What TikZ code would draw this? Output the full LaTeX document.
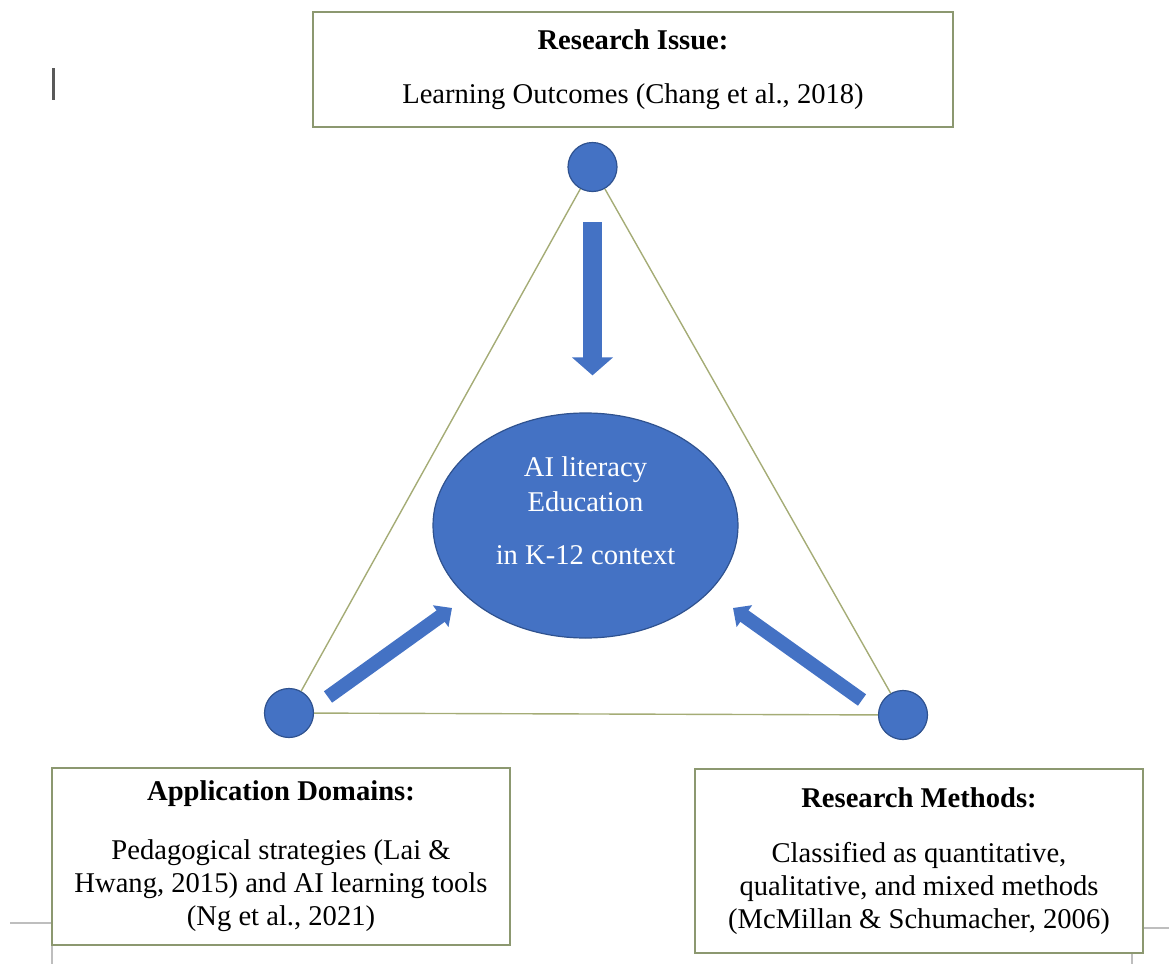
\documentclass[tikz,border=0pt]{standalone}
\usepackage{fontspec}
\setmainfont{Liberation Serif}
\usetikzlibrary{arrows.meta,shapes.geometric}

\definecolor{officeblue}{RGB}{68,114,196}
\definecolor{blueedge}{RGB}{47,82,143}
\definecolor{sideline}{RGB}{165,172,118}
\definecolor{boxgreen}{RGB}{140,152,112}
\definecolor{markgrey}{RGB}{190,190,190}

\begin{document}
\begin{tikzpicture}[x=0.5pt,y=-0.5pt,
  box/.style={draw=boxgreen,line width=1pt,fill=white,align=center,inner sep=0pt,
    font=\fontsize{14.3}{16.5}\selectfont},
  dot/.style={circle,fill=officeblue,draw=blueedge,line width=0.6pt,minimum size=24.5pt,inner sep=0pt},
  hubstyle/.style={ellipse,fill=officeblue,draw=blueedge,line width=0.6pt,inner sep=0pt,
    minimum width=152.5pt,minimum height=112.5pt},
  side/.style={draw=sideline,line width=0.7pt},
  bigarr/.style={draw=officeblue,line width=9.5pt,-{Triangle[length=9pt,width=20pt]}},
  smallarr/.style={draw=officeblue,line width=7pt,-{Triangle[length=7pt,width=13pt]}},
  cropline/.style={draw=markgrey,line width=0.8pt}]
  \useasboundingbox (0,0) rectangle (1169,964);
  % stray cursor and page corner marks
  \draw[line width=1.5pt,draw=black!65] (53,68) -- (53,100);
  \draw[cropline] (10,923) -- (52,923) -- (52,964);
  \draw[cropline] (1169,928) -- (1143,928);
  \draw[cropline] (1132,953) -- (1132,964);
  % triangle corners
  \node[dot] (top) at (592.5,167) {};
  \node[dot] (left) at (289,713) {};
  \node[dot] (right) at (903,715) {};
  \draw[side] (top) -- (left);
  \draw[side] (left) -- (right);
  \draw[side] (right) -- (top);
  % centre
  \node[hubstyle] (hub) at (585.5,525.5) {};
  \node[align=center,text=white,inner sep=0pt,font=\fontsize{14.3}{16.5}\selectfont]
    (hubtext) at (585.5,511) {AI literacy\\[1pt]Education\\[10pt]in K-12 context};
  % arrows into the centre
  \coordinate (lefttail) at (328,697);
  \coordinate (lefttip) at (452,608);
  \coordinate (righttail) at (862,700);
  \coordinate (righttip) at (733,608);
  \draw[bigarr,shorten <=15pt,shorten >=18.5pt] (top) -- (top |- hub.north);
  \draw[smallarr] (lefttail) -- (lefttip);
  \draw[smallarr] (righttail) -- (righttip);
  % boxes
  \node[box,minimum width=320pt,minimum height=57.5pt] (issue) at (633,69.5)
    {\textbf{Research Issue:}\\[10.5pt]Learning Outcomes (Chang et al., 2018)};
  \node[box,minimum width=229pt,minimum height=88.5pt] (domains) at (281,856.5)
    {\textbf{Application Domains:}\\[13pt]Pedagogical strategies (Lai \&\\Hwang, 2015) and AI learning tools\\(Ng et al., 2021)};
  \node[box,minimum width=224pt,minimum height=92pt] (methods) at (919,861)
    {\textbf{Research Methods:}\\[11pt]Classified as quantitative,\\qualitative, and mixed methods\\(McMillan \& Schumacher, 2006)};
\end{tikzpicture}
\end{document}
